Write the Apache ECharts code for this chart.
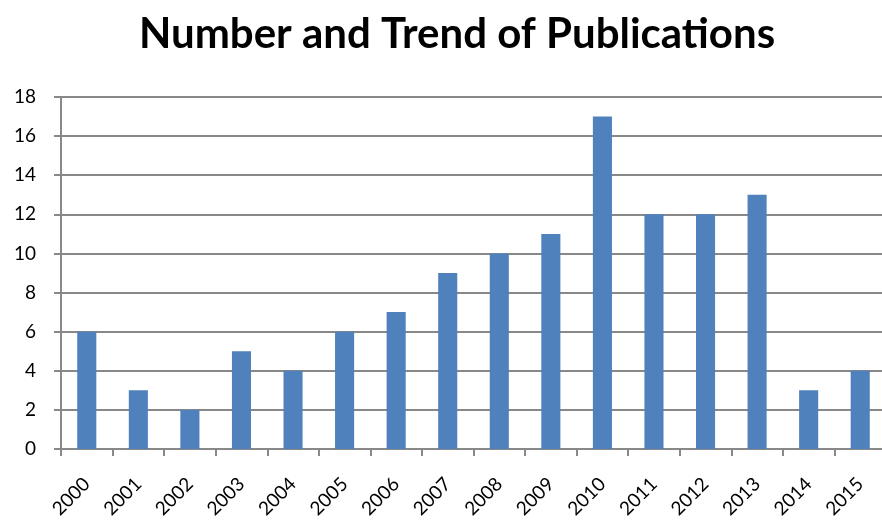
<!DOCTYPE html>
<html><head><meta charset="utf-8">
<script src="https://cdn.jsdelivr.net/npm/echarts@6/dist/echarts.min.js"></script>
<style>html,body{margin:0;padding:0;background:#fff}#c{width:882px;height:521px}</style>
</head><body><div id="c"></div>
<script>
const categories = ['2000','2001','2002','2003','2004','2005','2006','2007','2008','2009','2010','2011','2012','2013','2014','2015'];
const publications = [6,3,2,5,4,6,7,9,10,11,17,12,12,13,3,4];
const yTicks = {min:0, max:18, interval:2};

const chart = echarts.init(document.getElementById('c'), null, {renderer:'canvas'});
chart.setOption({
  animation:false,
  title:{text:'Number and Trend of Publications', left:134, top:8,
    textStyle:{fontFamily:'Lato', fontWeight:'bold', fontSize:42, color:'#000'}},
  grid:{left:61, right:-4, top:97, bottom:72, containLabel:false, outerBoundsMode:'none'},
  xAxis:{type:'category', data:categories,
    axisLine:{lineStyle:{color:'#888', width:2}},
    axisTick:{show:true, length:7, lineStyle:{color:'#888', width:2}},
    axisLabel:{rotate:45, fontFamily:'Lato', fontSize:19, color:'#000', margin:32}},
  yAxis:{type:'value', min:yTicks.min, max:yTicks.max, interval:yTicks.interval,
    axisLine:{show:true, lineStyle:{color:'#888', width:2}},
    axisTick:{show:true, length:7, lineStyle:{color:'#888', width:2}},
    splitLine:{lineStyle:{color:'#888', width:2}},
    axisLabel:{fontFamily:'Lato', fontSize:19, color:'#000', margin:25}},
  series:[{type:'bar', data:publications, barWidth:'37%',
    itemStyle:{color:'#4F81BD'}}]
});
</script></body></html>
